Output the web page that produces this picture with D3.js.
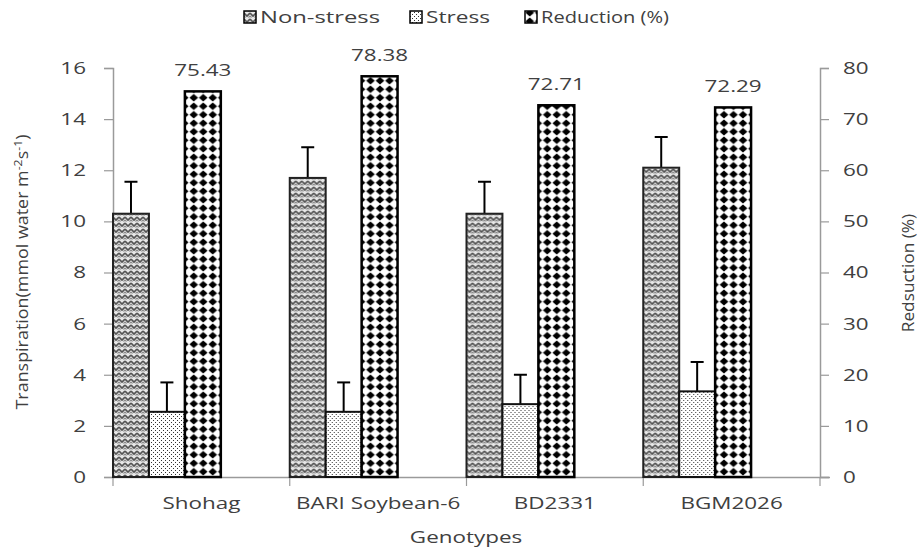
<!DOCTYPE html>
<html><head><meta charset="utf-8">
<script src="https://cdn.jsdelivr.net/npm/d3@7"></script>
<style>body{margin:0;background:#fff}svg{display:block}text{font-family:"Open Sans",sans-serif;fill:#404040}</style>
</head><body>
<svg id="c" width="923" height="548"></svg>
<script>
const categories = ["Shohag", "BARI Soybean-6", "BD2331", "BGM2026"];
const series = ["Non-stress", "Stress", "Reduction (%)"];
const nonStress = [10.3, 11.7, 10.3, 12.1];
const nonStressErr = [1.25, 1.2, 1.25, 1.2];
const stress = [2.55, 2.55, 2.85, 3.35];
const stressErr = [1.15, 1.15, 1.15, 1.15];
const reduction = [75.43, 78.38, 72.71, 72.29];
const leftTicks = [0, 2, 4, 6, 8, 10, 12, 14, 16];
const rightTicks = [0, 10, 20, 30, 40, 50, 60, 70, 80];

const svg = d3.select("#c");
const L = 113, R = 820, T = 68, B = 477;
const SX = 1.32;
const x = d3.scaleBand().domain(categories).range([L, R]).padding(0);
const xs = d3.scaleBand().domain(series).range([0, x.bandwidth() * 0.61]).padding(0);
const yL = d3.scaleLinear().domain([0, 16]).range([B, T]);
const yR = d3.scaleLinear().domain([0, 80]).range([B, T]);

function stretch(sel, sx) {
  sel.each(function() {
    const t = d3.select(this);
    const tx = +t.attr("x") || 0, ty = +t.attr("y") || 0;
    const prev = t.attr("transform") || "";
    t.attr("x", 0).attr("y", 0).attr("transform", `${prev} translate(${tx},${ty}) scale(${sx},1)`);
  });
}

const defs = svg.append("defs");
const p1 = defs.append("pattern").attr("id", "pNS").attr("patternUnits", "userSpaceOnUse").attr("width", 6).attr("height", 6);
p1.append("rect").attr("width", 6).attr("height", 6).attr("fill", "#e8e8e8");
p1.append("path").attr("d", "M0,1 L3,4 L6,1").attr("fill", "none").attr("stroke", "#555").attr("stroke-width", 1.7);
p1.append("path").attr("d", "M0,4 L1.5,5.5 M4.5,5.5 L6,4").attr("fill", "none").attr("stroke", "#888").attr("stroke-width", 1.1);
const p2 = defs.append("pattern").attr("id", "pS").attr("patternUnits", "userSpaceOnUse").attr("width", 4).attr("height", 4);
p2.append("rect").attr("width", 4).attr("height", 4).attr("fill", "#fff");
p2.append("rect").attr("x", 0).attr("y", 0).attr("width", 1).attr("height", 1).attr("fill", "#333");
p2.append("rect").attr("x", 2).attr("y", 2).attr("width", 1).attr("height", 1).attr("fill", "#333");
const p3 = defs.append("pattern").attr("id", "pR").attr("patternUnits", "userSpaceOnUse").attr("width", 9.5).attr("height", 8.5);
p3.append("rect").attr("width", 9.5).attr("height", 8.5).attr("fill", "#fff");
p3.append("polygon").attr("points", "4.75,0.4 9.1,4.25 4.75,8.1 0.4,4.25").attr("fill", "#000");

const fills = {"Non-stress": "url(#pNS)", "Stress": "url(#pS)", "Reduction (%)": "url(#pR)"};
const strokes = {"Non-stress": "#222", "Stress": "#111", "Reduction (%)": "#000"};

const gl = svg.append("g").attr("transform", `translate(${L},0)`)
  .call(d3.axisLeft(yL).tickValues(leftTicks).tickSize(9).tickPadding(18));
const gr = svg.append("g").attr("transform", `translate(${R},0)`)
  .call(d3.axisRight(yR).tickValues(rightTicks).tickSize(9).tickPadding(14));
const gb = svg.append("g").attr("transform", `translate(0,${B})`)
  .call(d3.axisBottom(x).tickSize(0).tickPadding(20));
[gl, gr, gb].forEach(g => {
  g.selectAll("path.domain").attr("stroke", "#9a9a9a").attr("stroke-width", 1.5);
  g.selectAll("line").attr("stroke", "#9a9a9a").attr("stroke-width", 1.2);
  g.selectAll("text").style("font-family", "Open Sans").style("font-size", "17px").attr("fill", "#404040");
  stretch(g.selectAll(".tick text"), SX);
});
gb.select("path.domain").attr("d", `M${L},0.5H${R + 10}`);
gb.selectAll("line.cb").data(categories.map(c => x(c)).concat([R])).enter().append("line").attr("class", "cb")
  .attr("x1", d => d).attr("x2", d => d).attr("y1", 0).attr("y2", 9).attr("stroke", "#9a9a9a").attr("stroke-width", 1.2);

const rows = categories.map((c, i) => ({c, vals: [
  {s: "Non-stress", v: nonStress[i], e: nonStressErr[i], y: yL},
  {s: "Stress", v: stress[i], e: stressErr[i], y: yL},
  {s: "Reduction (%)", v: reduction[i], e: null, y: yR}]}));
const cg = svg.append("g").selectAll("g").data(rows).enter().append("g")
  .attr("transform", d => `translate(${x(d.c)},0)`);
cg.selectAll("g.err").data(d => d.vals.filter(v => v.e !== null)).enter().append("g").attr("class", "err").each(function(d) {
  const g = d3.select(this);
  const cx = xs(d.s) + xs.bandwidth() / 2;
  g.append("line").attr("x1", cx).attr("x2", cx).attr("y1", d.y(d.v)).attr("y2", d.y(d.v + d.e)).attr("stroke", "#000").attr("stroke-width", 2);
  g.append("line").attr("x1", cx - 6.5).attr("x2", cx + 6.5).attr("y1", d.y(d.v + d.e)).attr("y2", d.y(d.v + d.e)).attr("stroke", "#000").attr("stroke-width", 2);
});
cg.selectAll("rect.bar").data(d => d.vals).enter().append("rect").attr("class", "bar")
  .attr("x", d => xs(d.s)).attr("width", xs.bandwidth())
  .attr("y", d => d.y(d.v)).attr("height", d => B - d.y(d.v))
  .attr("fill", d => fills[d.s]).attr("stroke", d => strokes[d.s])
  .attr("stroke-width", d => d.s === "Reduction (%)" ? 2.5 : 2);
const labs = cg.selectAll("text.lab").data(d => d.vals.filter(v => v.s === "Reduction (%)")).enter().append("text").attr("class", "lab")
  .attr("x", d => xs(d.s) + xs.bandwidth() / 2).attr("y", d => d.y(d.v) - 15)
  .attr("text-anchor", "middle").style("font-size", "17px").text(d => d.v.toFixed(2));
stretch(labs, SX);

const gt = svg.append("text").attr("x", 466).attr("y", 543).attr("text-anchor", "middle").style("font-size", "17px").text("Genotypes");
stretch(gt, SX);
const yt = svg.append("text").attr("transform", "translate(28,272) rotate(-90) scale(1.12,1)").attr("text-anchor", "middle").style("font-size", "16px");
yt.append("tspan").text("Transpiration(mmol water m");
yt.append("tspan").attr("dy", -6).style("font-size", "11px").text("-2");
yt.append("tspan").attr("dy", 6).text("s");
yt.append("tspan").attr("dy", -6).style("font-size", "11px").text("-1");
yt.append("tspan").attr("dy", 6).text(")");
svg.append("text").attr("transform", "translate(914,273) rotate(-90) scale(1.08,1)").attr("text-anchor", "middle").style("font-size", "16px").text("Redsuction (%)");

const legX = [244, 410, 525];
const legW = [120, 64, 128];
const lg = svg.append("g").selectAll("g").data(series).enter().append("g")
  .attr("transform", (d, i) => `translate(${legX[i]},0)`);
lg.append("rect").attr("y", 11).attr("width", 12).attr("height", 12).attr("fill", d => fills[d]).attr("stroke", "#000").attr("stroke-width", 1.5);
lg.append("text").attr("x", 16).attr("y", 23).style("font-size", "16px")
  .attr("textLength", (d, i) => legW[i]).attr("lengthAdjust", "spacingAndGlyphs").text(d => d);
</script>
</body></html>
